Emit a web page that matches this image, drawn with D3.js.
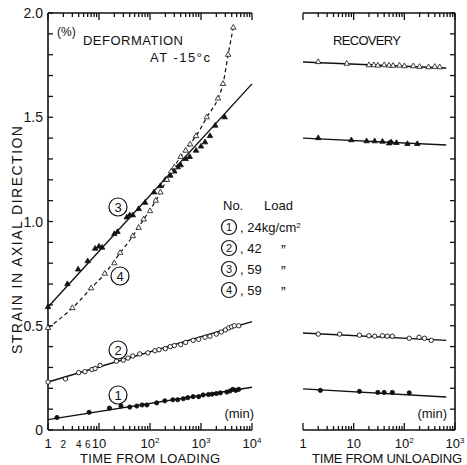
<!DOCTYPE html>
<html>
<head>
<meta charset="utf-8">
<style>
  body { margin: 0; background: #fff; }
  svg text { font-family: "Liberation Sans", "DejaVu Sans", sans-serif; fill: #111; }
  .spine { stroke: #111; stroke-width: 1.6px; fill: none; }
  .tick { stroke: #111; stroke-width: 1.3px; }
  .fit { stroke: #111; stroke-width: 1.4px; fill: none; }
  .dash { stroke: #111; stroke-width: 1.2px; fill: none; stroke-dasharray: 4,3; }
</style>
</head>
<body>
<div id="chart"></div>
<script src="https://cdn.jsdelivr.net/npm/d3@7"></script>
<script>
// ---- data (time in min, strain in %) ----
var yTickLabels = ["0", "0.5", "1.0", "1.5", "2.0"];
var loadTickLabels = [[1, "1"], [2, "2"], [4, "4"], [6, "6"], [10, "10"], [100, "10", "2"], [1000, "10", "3"], [10000, "10", "4"]];
var unloadTickLabels = [[1, "1"], [10, "10"], [100, "10", "2"], [1000, "10", "3"]];

// deformation, fitted straight lines [t, strain]
var fit1 = [[1, 0.05], [10000, 0.205]];
var fit2 = [[1, 0.23], [10000, 0.52]];
var fit3 = [[1, 0.59], [10000, 1.66]];
// deformation, dashed curve of test 4
var curve4 = [[1, 0.49], [3, 0.585], [7, 0.68], [13, 0.75], [26, 0.85], [46, 0.93], [75, 1.01], [130, 1.1],
  [215, 1.2], [350, 1.29], [610, 1.37], [950, 1.44], [1300, 1.5], [2150, 1.59], [2700, 1.66], [3400, 1.8], [4300, 1.93]];

var pts1 = [[1.5, 0.06], [6.4, 0.085], [16, 0.105], [27, 0.115], [40, 0.11], [55, 0.115], [70, 0.12], [87, 0.12],
  [135, 0.13], [195, 0.14], [280, 0.145], [350, 0.145], [450, 0.15], [550, 0.155], [700, 0.16], [900, 0.16],
  [1100, 0.168], [1400, 0.17], [1650, 0.172], [2000, 0.175], [2400, 0.178], [3200, 0.182], [3700, 0.187],
  [4200, 0.195], [4800, 0.19], [5500, 0.195]];
var pts2 = [[1, 0.23], [2.2, 0.245], [4, 0.275], [5.3, 0.28], [7.3, 0.29], [8.4, 0.295], [10.5, 0.31], [22, 0.33],
  [30, 0.335], [37, 0.345], [46, 0.355], [63, 0.365], [91, 0.37], [125, 0.38], [150, 0.385], [200, 0.39],
  [250, 0.4], [300, 0.405], [400, 0.41], [500, 0.42], [700, 0.43], [900, 0.435], [1200, 0.445], [1500, 0.45],
  [2000, 0.46], [2500, 0.47], [3000, 0.48], [3500, 0.49], [4000, 0.495], [4500, 0.5], [5500, 0.5]];
var pts3 = [[1, 0.59], [2.4, 0.7], [3.9, 0.77], [6, 0.81], [8.4, 0.87], [10, 0.88], [11.5, 0.875], [20, 0.94],
  [23, 0.95], [35, 1.02], [40, 1.03], [46, 1.03], [60, 1.06], [80, 1.09], [120, 1.14], [160, 1.17], [200, 1.2],
  [250, 1.22], [300, 1.24], [350, 1.26], [400, 1.27], [500, 1.3], [600, 1.31], [800, 1.34], [1000, 1.36],
  [1200, 1.38], [1500, 1.41], [1900, 1.46], [2900, 1.5]];
var pts4 = [[1, 0.49], [3, 0.585], [7, 0.68], [13, 0.75], [20, 0.8], [26, 0.85], [46, 0.93], [60, 0.97],
  [75, 1.01], [100, 1.05], [130, 1.1], [160, 1.14], [215, 1.2], [260, 1.24], [300, 1.26], [400, 1.31],
  [500, 1.34], [610, 1.37], [800, 1.41], [1300, 1.5], [2150, 1.59], [2700, 1.66], [3400, 1.8], [4300, 1.93]];

// recovery, fitted lines and points
var rFit1 = [[1, 0.197], [670, 0.158]];
var rFit2 = [[1, 0.465], [670, 0.43]];
var rFit3 = [[1, 1.40], [670, 1.367]];
var rFit4 = [[1, 1.765], [670, 1.736]];
var rPts1 = [[2.2, 0.19], [13, 0.185], [30, 0.18], [40, 0.18], [58, 0.18], [125, 0.178]];
var rPts2 = [[2, 0.46], [5.3, 0.46], [13, 0.455], [20, 0.452], [26, 0.45], [37, 0.452], [46, 0.45], [58, 0.45],
  [125, 0.44], [195, 0.445], [250, 0.44], [340, 0.43]];
var rPts3 = [[2, 1.4], [9, 1.39], [18, 1.385], [26, 1.385], [37, 1.383], [50, 1.375], [55, 1.38], [70, 1.377],
  [115, 1.372], [180, 1.372]];
var rPts4 = [[2, 1.765], [7.3, 1.757], [20, 1.75], [25, 1.75], [30, 1.748], [40, 1.75], [50, 1.748], [60, 1.747],
  [80, 1.748], [100, 1.745], [150, 1.745], [200, 1.742], [300, 1.74], [400, 1.742], [500, 1.74]];

var legendRows = [["1", "24kg/cm"], ["2", "42"], ["3", "59"], ["4", "59"]];

// ---- layout ----
var width = 467, height = 465;
var svg = d3.select("#chart").append("svg").attr("width", width).attr("height", height);

var xL = d3.scaleLog().domain([1, 1e4]).range([48, 252]);
var xR = d3.scaleLog().domain([1, 1e3]).range([303, 455]);
var y = d3.scaleLinear().domain([0, 2]).range([430, 13]);

function logTicks(scale) {
  var d = scale.domain(), out = [];
  for (var p = 1; p < d[1]; p *= 10) for (var k = 1; k < 10; k++) out.push(p * k);
  out.push(d[1]);
  return out;
}
function isDecade(v) { return Math.abs(Math.log10(v) - Math.round(Math.log10(v))) < 1e-9; }

function drawFrame(x, yAxisAt) {
  var g = svg.append("g");
  var r = x.range();
  // bottom and top spines with inward ticks
  g.append("line").attr("class", "spine").attr("x1", r[0]).attr("x2", r[1]).attr("y1", y(0)).attr("y2", y(0));
  g.append("line").attr("class", "spine").attr("x1", r[0]).attr("x2", r[1]).attr("y1", y(2)).attr("y2", y(2));
  logTicks(x).forEach(function (v) {
    var len = isDecade(v) ? 7 : 4;
    g.append("line").attr("class", "tick").attr("x1", x(v)).attr("x2", x(v)).attr("y1", y(0)).attr("y2", y(0) - len);
    g.append("line").attr("class", "tick").attr("x1", x(v)).attr("x2", x(v)).attr("y1", y(2)).attr("y2", y(2) + len);
  });
  // vertical axis with 0.1 ticks pointing inward
  var dir = yAxisAt === r[0] ? 1 : -1;
  g.append("line").attr("class", "spine").attr("x1", yAxisAt).attr("x2", yAxisAt).attr("y1", y(0)).attr("y2", y(2));
  d3.range(0, 21).forEach(function (i) {
    g.append("line").attr("class", "tick").attr("x1", yAxisAt).attr("x2", yAxisAt + dir * 5)
      .attr("y1", y(i / 10)).attr("y2", y(i / 10));
  });
  return g;
}

drawFrame(xL, 48);
drawFrame(xR, 455);

// y tick labels
svg.selectAll(".ylab").data(yTickLabels).enter().append("text")
  .attr("x", 43).attr("y", function (d, i) { return y(i * 0.5) + 5; })
  .attr("text-anchor", "end").style("font-size", "14px").text(function (d) { return d; });

function xLabels(x, data) {
  data.forEach(function (d) {
    var t = svg.append("text").attr("x", x(d[0])).attr("y", 448).attr("text-anchor", "middle")
      .style("font-size", d[1].length === 1 && d[0] < 10 && d[0] > 1 ? "10px" : "13px");
    t.append("tspan").text(d[1]);
    if (d[2]) t.append("tspan").attr("dy", -5).style("font-size", "8px").text(d[2]);
  });
}
xLabels(xL, loadTickLabels);
xLabels(xR, unloadTickLabels);

// ---- lines ----
function lineFor(x, curve) {
  return d3.line().x(function (d) { return x(d[0]); }).y(function (d) { return y(d[1]); }).curve(curve || d3.curveLinear);
}
[fit1, fit2, fit3].forEach(function (f) { svg.append("path").attr("class", "fit").attr("d", lineFor(xL)(f)); });
svg.append("path").attr("class", "dash").attr("d", lineFor(xL, d3.curveMonotoneX)(curve4));
[rFit1, rFit2, rFit3, rFit4].forEach(function (f) { svg.append("path").attr("class", "fit").attr("d", lineFor(xR)(f)); });

// ---- markers ----
var tri = d3.symbol().type(d3.symbolTriangle).size(13);
function markers(x, data, kind) {
  var g = svg.append("g");
  data.forEach(function (d) {
    var cx = x(d[0]), cy = y(d[1]);
    if (kind === "dot" || kind === "ring") {
      g.append("circle").attr("cx", cx).attr("cy", cy).attr("r", kind === "dot" ? 2.1 : 2.2)
        .attr("fill", kind === "dot" ? "#111" : "#fff").attr("stroke", "#111").attr("stroke-width", 0.9);
    } else {
      g.append("path").attr("d", tri).attr("transform", "translate(" + cx + "," + cy + ")")
        .attr("fill", kind === "tri" ? "#111" : "#fff").attr("stroke", "#111").attr("stroke-width", 0.8);
    }
  });
}
markers(xL, pts1, "dot");
markers(xL, pts2, "ring");
markers(xL, pts3, "tri");
markers(xL, pts4, "otri");
markers(xR, rPts1, "dot");
markers(xR, rPts2, "ring");
markers(xR, rPts3, "tri");
markers(xR, rPts4, "otri");

// ---- circled numbers ----
function circled(cx, cy, r, n, fs) {
  svg.append("circle").attr("cx", cx).attr("cy", cy).attr("r", r).attr("fill", "#fff").attr("stroke", "#111").attr("stroke-width", 1.2);
  svg.append("text").attr("x", cx).attr("y", cy + fs * 0.36).attr("text-anchor", "middle").style("font-size", fs + "px").text(n);
}
circled(118, 207, 9, "3", 13);
circled(120, 276, 9, "4", 13);
circled(118, 350, 9, "2", 13);
circled(118, 395, 9, "1", 13);

// ---- legend ----
svg.append("text").attr("x", 223).attr("y", 210).style("font-size", "13px").text("No.");
svg.append("text").attr("x", 264).attr("y", 210).style("font-size", "13px").text("Load");
legendRows.forEach(function (d, i) {
  var cy = 227 + i * 21;
  circled(229, cy, 7.5, d[0], 11);
  var t = svg.append("text").attr("x", 240).attr("y", cy + 5).style("font-size", "13px");
  t.append("tspan").text(", " + d[1]);
  if (i === 0) t.append("tspan").attr("dy", -4).style("font-size", "8px").text("2");
  else svg.append("text").attr("x", 281).attr("y", cy + 7).style("font-size", "14px").text("\u201D");
});

// ---- titles ----
svg.append("text").attr("x", 57).attr("y", 36).style("font-size", "12px").text("(%)");
svg.append("text").attr("x", 83).attr("y", 45).attr("textLength", 100).style("font-size", "13px").text("DEFORMATION");
svg.append("text").attr("x", 150).attr("y", 62).attr("textLength", 60).style("font-size", "13px").text("AT  -15\u00B0c");
svg.append("text").attr("x", 333).attr("y", 45).attr("textLength", 68).style("font-size", "13px").text("RECOVERY");
svg.append("text").attr("x", 254).attr("y", 418).attr("text-anchor", "end").style("font-size", "13px").text("(min)");
svg.append("text").attr("x", 447).attr("y", 418).attr("text-anchor", "end").style("font-size", "13px").text("(min)");
svg.append("text").attr("x", 80).attr("y", 463).attr("textLength", 140).style("font-size", "13px").text("TIME FROM LOADING");
svg.append("text").attr("x", 312).attr("y", 463).attr("textLength", 150).style("font-size", "13px").text("TIME FROM UNLOADING");
svg.append("text").attr("transform", "translate(22,354) rotate(-90)").attr("textLength", 228)
  .style("font-size", "14px").text("STRAIN IN AXIAL DIRECTION");
</script>
</body>
</html>
